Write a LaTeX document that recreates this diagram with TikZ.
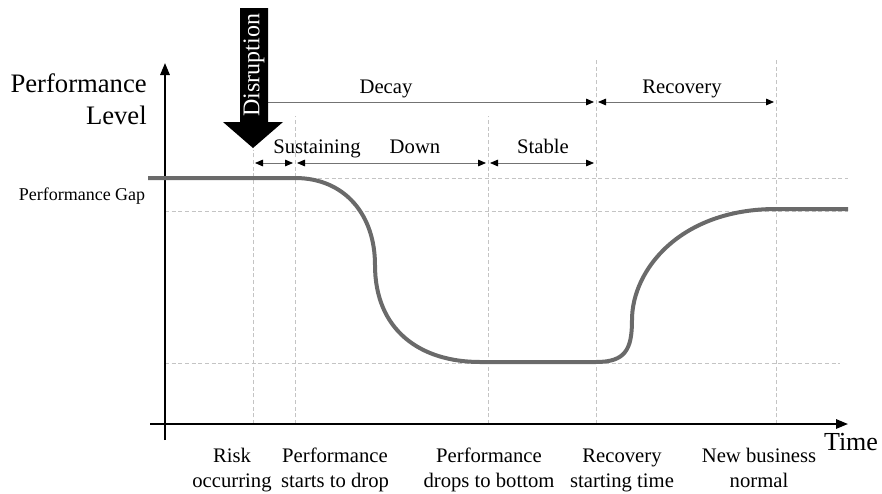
\documentclass[tikz,border=0pt]{standalone}
\usepackage{fontspec}
\setmainfont{Liberation Serif}
\usetikzlibrary{arrows.meta}
\definecolor{curvegray}{HTML}{6A6A6A}
\definecolor{gridgray}{HTML}{C4C4C4}
\tikzstyle{gridline} = [draw=gridgray, line width=0.6pt, dash pattern=on 3pt off 2pt]
\tikzstyle{axisline} = [draw, line width=1.5pt, -{Triangle[length=9pt,width=7pt]}]
\tikzstyle{curveline} = [draw=curvegray, line width=3pt]
\tikzstyle{span} = [draw=black!55, line width=0.6pt, {Triangle[length=6pt,width=5pt,black]}-{Triangle[length=6pt,width=5pt,black]}, shorten <=1.5pt, shorten >=1.5pt]
\tikzstyle{phase} = [anchor=base, inner sep=0pt, font=\fontsize{15.5}{18}\selectfont]
\tikzstyle{ticklabel} = [align=center, inner sep=0pt, font=\fontsize{15.5}{18.5}\selectfont]

\begin{document}
\begin{tikzpicture}[x=0.75pt, y=-0.75pt]
    \useasboundingbox (0,0) rectangle (882,493);

    % time points on the axis
    \coordinate (o) at (165,424);
    \coordinate (tRisk) at (253,424);
    \coordinate (tDrop) at (295,424);
    \coordinate (tBottom) at (488,424);
    \coordinate (tRecover) at (596,424);
    \coordinate (tNormal) at (776,424);

    % dashed guides
    \draw [gridline] (tRisk) -- (253,150);
    \draw [gridline] (tDrop) -- (295,116);
    \draw [gridline] (tBottom) -- (488,116);
    \draw [gridline] (tRecover) -- (596,58);
    \draw [gridline] (tNormal) -- (776,58);
    \draw [gridline] (165,178) -- (848,178);
    \draw [gridline] (165,211) -- (848,211);
    \draw [gridline] (165,363) -- (840,363);

    % axes
    \coordinate (xEnd) at (848,424);
    \coordinate (yEnd) at (165,63);
    \draw [axisline] (150,424) -- (xEnd);
    \draw [axisline] (165,440) -- (yEnd);

    % performance curve
    \draw [curveline] (148,178) -- (295,178)
        .. controls (345,178) and (375,215) .. (375,265)
        .. controls (375,330) and (420,362) .. (480,362) -- (596,362)
        .. controls (625,362) and (632,350) .. (632,320)
        .. controls (632,270) and (680,209) .. (776,209) -- (848,209);

    % phases
    \coordinate (dRisk) at (253,102);
    \coordinate (dRecover) at (596,102);
    \coordinate (dNormal) at (776,102);
    \coordinate (sRisk) at (253,163);
    \coordinate (sDrop) at (295,163);
    \coordinate (sBottom) at (488,163);
    \coordinate (sRecover) at (596,163);
    \path [span] (dRisk) -- (dRecover);
    \path [span] (dRecover) -- (dNormal);
    \path [span] (sRisk) -- (sDrop);
    \path [span] (sDrop) -- (sBottom);
    \path [span] (sBottom) -- (sRecover);

    \node [phase] (decay) at (386,93) {Decay};
    \node [phase] (recovery) at (682,93) {Recovery};
    \node [phase] (sustaining) at (317,153) {Sustaining};
    \node [phase] (down) at (415,153) {Down};
    \node [phase] (stable) at (543,153) {Stable};

    % disruption arrow
    \fill (240,8) -- (268,8) -- (268,122) -- (283,122) -- (253,148)
        -- (223,122) -- (240,122) -- cycle;
    \node [rotate=90, text=white, font=\fontsize{18}{20}\selectfont] (disruption) at (254,65) {Disruption};

    % axis labels
    \node [anchor=east, align=right, inner sep=0pt, font=\fontsize{20}{24}\selectfont] (perf) at (147,99) {Performance\\Level};
    \node [inner sep=0pt, font=\fontsize{13.5}{16}\selectfont] (gap) at (82,196) {Performance Gap};
    \node [inner sep=0pt, font=\fontsize{19.5}{22}\selectfont] (time) at (851,442) {Time};

    \node [ticklabel] (lRisk) at (232,470) {Risk\strut\\occurring\strut};
    \node [ticklabel] (lDrop) at (335,470) {Performance\strut\\starts to drop\strut};
    \node [ticklabel] (lBottom) at (489,470) {Performance\strut\\drops to bottom\strut};
    \node [ticklabel] (lRecover) at (622,470) {Recovery\strut\\starting time\strut};
    \node [ticklabel] (lNormal) at (759,470) {New business\strut\\normal\strut};

\end{tikzpicture}
\end{document}
